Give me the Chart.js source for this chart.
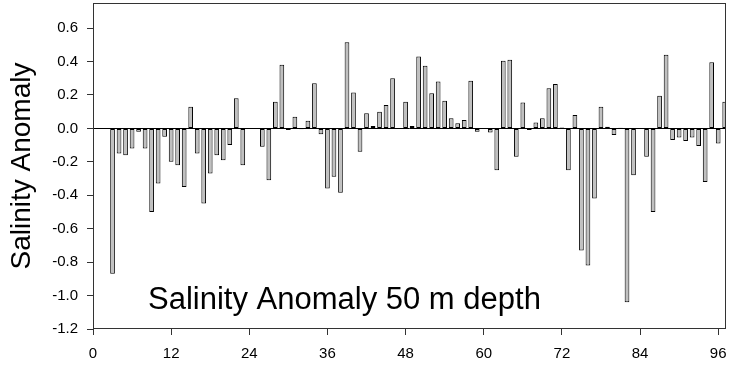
<!DOCTYPE html>
<html>
<head>
<meta charset="utf-8">
<script src="https://cdn.jsdelivr.net/npm/chart.js@4/dist/chart.umd.min.js"></script>
<style>
  html, body { margin: 0; padding: 0; background: #fff; }
  #wrap { width: 729px; height: 368px; position: relative; }
</style>
</head>
<body>
<div id="wrap"><canvas id="myChart"></canvas></div>
<script>
// month index and salinity anomaly (null = no data)
const months = [3,4,5,6,7,8,9,10,11,12,13,14,15,16,17,18,19,20,21,22,23,24,25,26,27,28,29,30,
  31,32,33,34,35,36,37,38,39,40,41,42,43,44,45,46,47,48,49,50,51,52,53,54,55,56,57,58,59,60,
  61,62,63,64,65,66,67,68,69,70,71,72,73,74,75,76,77,78,79,80,81,82,83,84,85,86,87,88,89,90,
  91,92,93,94,95,96,97]
const anomaly = [-0.87,-0.15,-0.16,-0.12,-0.02,-0.12,-0.50,-0.33,-0.05,-0.20,-0.22,-0.35,0.13,-0.15,
  -0.45,-0.27,-0.16,-0.19,-0.10,0.18,-0.22,null,null,-0.11,-0.31,0.16,0.38,-0.01,
  0.07,-0.005,0.045,0.27,-0.035,-0.36,-0.29,-0.385,0.515,0.215,-0.14,0.09,0.015,0.10,0.14,0.30,-0.004,0.16,
  0.015,0.43,0.375,0.21,0.28,0.165,0.06,0.03,0.05,0.285,-0.02,null,
  -0.025,-0.25,0.405,0.41,-0.17,0.155,-0.01,0.035,0.06,0.24,0.265,0.005,-0.25,0.08,-0.73,-0.82,-0.42,0.13,
  0.01,-0.04,0.004,-1.04,-0.28,null,-0.17,-0.50,0.195,0.44,-0.07,-0.055,
  -0.075,-0.055,-0.105,-0.32,0.395,-0.09,0.16]
const xTicks = [0,12,24,36,48,60,72,84,96]
const yTicks = [-1.2,-1.0,-0.8,-0.6,-0.4,-0.2,0.0,0.2,0.4,0.6]

const points = months.map((m, i) => ({x: m, y: anomaly[i]}))

const frame = {
    id: 'frame',
    afterDatasetsDraw(chart) {
        const a = chart.chartArea
        const c = chart.ctx
        c.save()
        c.strokeStyle = '#333'
        c.lineWidth = 1
        c.strokeRect(Math.round(a.left) + 0.5, Math.round(a.top) + 0.5,
            Math.round(a.right - a.left) - 1, Math.round(a.bottom - a.top) - 1)
        c.fillStyle = '#000'
        c.font = '31px "Liberation Sans", Arial, sans-serif'
        c.textBaseline = 'alphabetic'
        c.fillText('Salinity Anomaly 50 m depth', a.left + 55, a.bottom - 20)
        c.restore()
    }
}

const ctx = document.getElementById('myChart').getContext('2d')
const myChart = new Chart(ctx, {
    type: 'bar',
    data: {
        datasets: [{
            data: points,
            backgroundColor: '#c0c0c0',
            borderColor: '#000',
            borderWidth: 1,
            borderSkipped: false,
            barPercentage: 0.72,
            categoryPercentage: 1
        }]
    },
    options: {
        responsive: true,
        maintainAspectRatio: false,
        animation: false,
        layout: { padding: { top: 3, right: 3, left: 0, bottom: 0 } },
        plugins: { legend: { display: false }, tooltip: { enabled: false } },
        scales: {
            x: {
                type: 'linear',
                min: 0,
                max: 97.2,
                offset: false,
                afterBuildTicks: s => { s.ticks = xTicks.map(v => ({value: v})) },
                afterFit: s => { s.height = 39; s.paddingLeft = 0; s.paddingRight = 0 },
                border: { display: false },
                grid: { offset: false, color: 'rgba(0,0,0,0)', tickColor: '#333', tickLength: 6, drawTicks: true },
                ticks: {
                    color: '#000',
                    padding: 10,
                    maxRotation: 0,
                    autoSkip: false,
                    font: { family: '"Liberation Sans", Arial, sans-serif', size: 15 }
                }
            },
            y: {
                min: -1.2,
                max: 0.75,
                afterBuildTicks: s => { s.ticks = yTicks.map(v => ({value: v})) },
                afterFit: s => { s.width = 93; s.paddingTop = 0; s.paddingBottom = 0 },
                border: { display: false },
                grid: {
                    color: c => c.tick && c.tick.value === 0 ? '#000' : 'rgba(0,0,0,0)',
                    tickColor: '#333',
                    tickLength: 6
                },
                ticks: {
                    color: '#000',
                    padding: 9,
                    callback: v => v.toFixed(1),
                    font: { family: '"Liberation Sans", Arial, sans-serif', size: 15 }
                },
                title: {
                    display: true,
                    text: 'Salinity Anomaly',
                    color: '#000',
                    padding: { top: 5, bottom: 0 },
                    font: { family: '"Liberation Sans", Arial, sans-serif', size: 28 }
                }
            }
        }
    },
    plugins: [frame]
})
</script>
</body>
</html>
